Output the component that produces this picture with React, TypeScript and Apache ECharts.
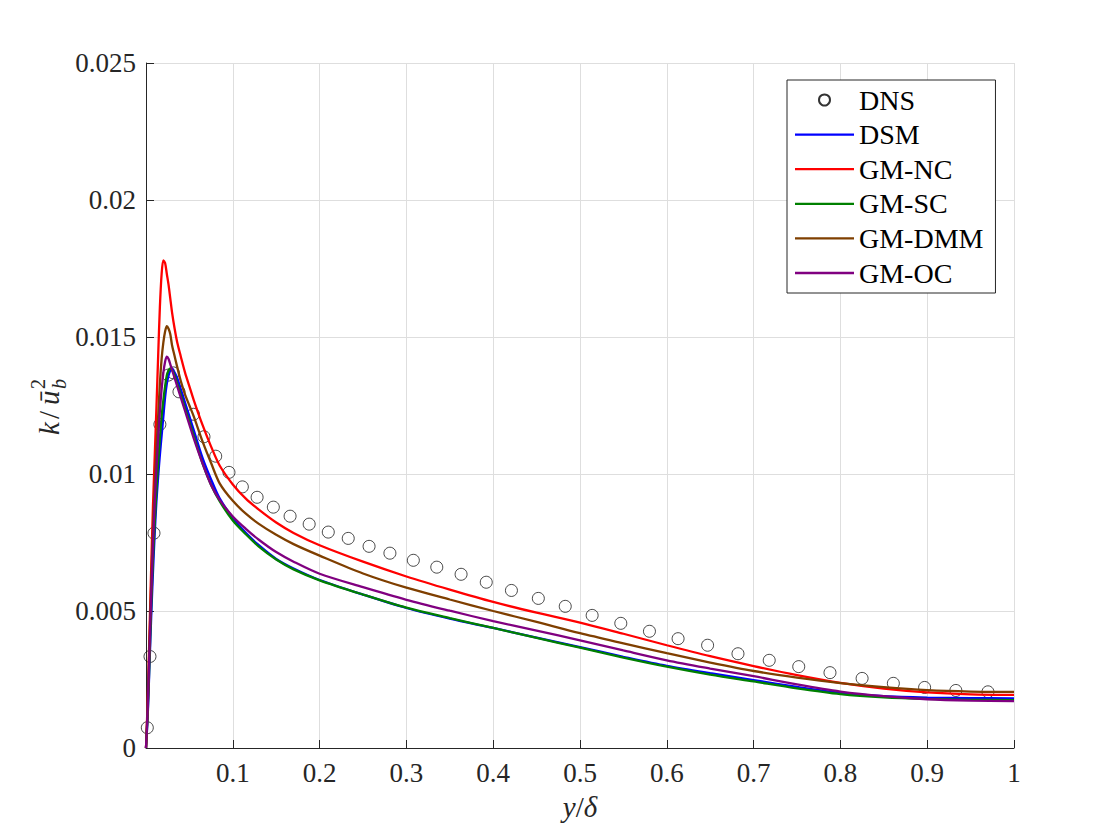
import React, { useEffect, useRef } from "react";
import * as echarts from "echarts";

const FONT = '"Liberation Serif", "DejaVu Serif", serif';

// DNS reference points
const dnsY = [0.0015, 0.0046, 0.0092, 0.016, 0.0257, 0.0315, 0.038, 0.0547, 0.0668, 0.0803, 0.0956, 0.111, 0.128, 0.1467, 0.166, 0.188, 0.21, 0.233, 0.257, 0.281, 0.308, 0.335, 0.363, 0.392, 0.421, 0.452, 0.483, 0.514, 0.547, 0.58, 0.613, 0.647, 0.682, 0.718, 0.752, 0.788, 0.825, 0.861, 0.897, 0.933, 0.97];
const dnsK = [0.00074, 0.00334, 0.00784, 0.01181, 0.01361, 0.01369, 0.013, 0.01218, 0.01136, 0.01065, 0.01006, 0.00953, 0.00915, 0.00879, 0.00846, 0.00817, 0.00788, 0.00765, 0.00736, 0.00711, 0.00685, 0.0066, 0.00634, 0.00605, 0.00575, 0.00546, 0.00517, 0.00484, 0.00455, 0.00426, 0.00399, 0.00375, 0.00344, 0.0032, 0.00297, 0.00275, 0.00254, 0.00236, 0.00221, 0.0021, 0.00205];

// model wall-normal coordinate
const modelY = [0, 0.002, 0.004, 0.006, 0.008, 0.01, 0.012, 0.014, 0.016, 0.018, 0.02, 0.022, 0.024, 0.026, 0.028, 0.03, 0.033, 0.036, 0.04, 0.045, 0.05, 0.055, 0.065, 0.075, 0.085, 0.1, 0.115, 0.13, 0.15, 0.17, 0.2, 0.25, 0.3, 0.35, 0.4, 0.45, 0.5, 0.55, 0.6, 0.65, 0.7, 0.75, 0.8, 0.85, 0.9, 0.95, 1.0];

const dsmK = [0, 0.0012, 0.003, 0.0048, 0.0064, 0.0078, 0.009, 0.0099, 0.0107, 0.0114, 0.0121, 0.0128, 0.0133, 0.0136, 0.01378, 0.01385, 0.0137, 0.0135, 0.0131, 0.0126, 0.0121, 0.0116, 0.0106, 0.0098, 0.0091, 0.0084, 0.00785, 0.0074, 0.0069, 0.00655, 0.00613, 0.0056, 0.00511, 0.00472, 0.00438, 0.00403, 0.00368, 0.00333, 0.003, 0.00273, 0.00248, 0.00223, 0.00201, 0.00189, 0.00184, 0.00182, 0.00181];
const gmNcK = [0, 0.0018, 0.0042, 0.0066, 0.0088, 0.0106, 0.0124, 0.0143, 0.0161, 0.0173, 0.0178, 0.0177, 0.0173, 0.0169, 0.0164, 0.0159, 0.0153, 0.0148, 0.0143, 0.0137, 0.0132, 0.0127, 0.0118, 0.011, 0.0103, 0.00962, 0.0091, 0.0087, 0.00823, 0.00785, 0.0074, 0.0068, 0.00626, 0.00578, 0.00533, 0.00494, 0.00458, 0.00417, 0.00375, 0.00335, 0.00299, 0.00266, 0.00238, 0.00217, 0.00203, 0.00196, 0.00194];
const gmScK = [0, 0.0013, 0.0032, 0.0052, 0.0069, 0.0082, 0.0094, 0.0104, 0.0113, 0.0121, 0.0127, 0.0132, 0.0136, 0.01378, 0.01385, 0.0138, 0.0136, 0.0133, 0.0129, 0.0124, 0.0119, 0.0114, 0.0104, 0.0096, 0.009, 0.0083, 0.0078, 0.00735, 0.00688, 0.00652, 0.00612, 0.0056, 0.00512, 0.00474, 0.00438, 0.00402, 0.00366, 0.0033, 0.00297, 0.00268, 0.00243, 0.00218, 0.00197, 0.00185, 0.00179, 0.00176, 0.00175];
const gmDmmK = [0, 0.0016, 0.0038, 0.006, 0.0079, 0.0095, 0.0109, 0.0121, 0.0133, 0.0142, 0.0148, 0.0152, 0.0154, 0.0153, 0.0151, 0.0147, 0.0143, 0.0139, 0.0134, 0.0129, 0.0125, 0.0121, 0.0112, 0.0104, 0.00965, 0.00902, 0.00855, 0.00818, 0.00778, 0.00744, 0.00702, 0.00637, 0.00585, 0.00542, 0.005, 0.0046, 0.00419, 0.00382, 0.00346, 0.00312, 0.00281, 0.00257, 0.00237, 0.00222, 0.00211, 0.00206, 0.00205];
const gmOcK = [0, 0.0015, 0.0036, 0.0056, 0.0074, 0.0089, 0.0102, 0.0113, 0.0123, 0.0131, 0.0137, 0.0141, 0.01428, 0.0142, 0.014, 0.0138, 0.0135, 0.0132, 0.0128, 0.0123, 0.0118, 0.0113, 0.0104, 0.0096, 0.00905, 0.00845, 0.008, 0.0076, 0.00715, 0.0068, 0.00636, 0.00587, 0.00541, 0.00501, 0.00463, 0.00428, 0.00393, 0.00356, 0.0032, 0.0029, 0.00262, 0.00232, 0.00206, 0.00189, 0.00178, 0.00173, 0.00171];

const seriesNames = ["DNS", "DSM", "GM-NC", "GM-SC", "GM-DMM", "GM-OC"];
const lineColors = ["#0000ff", "#ff0000", "#008000", "#7f3f00", "#800080"];
const xTicks = { min: 0, max: 1, interval: 0.1 };
const yTicks = { min: 0, max: 0.025, interval: 0.005 };

const pairs = (xs: number[], ys: number[]) => xs.map((x, i) => [x, ys[i]]);

export default function App() {
  const ref = useRef<HTMLDivElement>(null);
  useEffect(() => {
    if (!ref.current) return;
    const chart = echarts.init(ref.current, undefined, { renderer: "svg" });
    const models = [dsmK, gmNcK, gmScK, gmDmmK, gmOcK];
    const lineSeries = models.map((k, i) => ({
      name: seriesNames[i + 1],
      type: "line",
      data: pairs(modelY, k),
      symbol: "none",
      smooth: 0.3,
      lineStyle: { color: lineColors[i], width: 2.3 },
      itemStyle: { color: lineColors[i] },
      z: 3,
    }));
    const axisColor = "#262626";
    const italic = `italic 29px ${FONT}`;
    const lineIcon = "path://M0 0H59V2.3H0Z";
    chart.setOption({
      animation: false,
      backgroundColor: "#ffffff",
      grid: { left: 146, right: 106, top: 63, bottom: 92, containLabel: false },
      xAxis: {
        type: "value",
        ...xTicks,
        axisLine: { lineStyle: { color: axisColor, width: 1 } },
        axisTick: { inside: true, length: 8, lineStyle: { color: axisColor } },
        splitLine: { show: true, lineStyle: { color: "#dedede", width: 1 } },
        axisLabel: {
          fontFamily: FONT,
          fontSize: 27,
          color: axisColor,
          margin: 11,
          formatter: (v: number) => (v === 0 ? "" : String(+v.toFixed(1))),
        },
        name: "{i|y}/{i|δ}",
        nameLocation: "middle",
        nameGap: 44,
        nameTextStyle: {
          fontFamily: FONT,
          fontSize: 29,
          color: axisColor,
          rich: { i: { fontFamily: FONT, fontSize: 29, fontStyle: "italic", color: axisColor } },
        },
      },
      yAxis: {
        type: "value",
        ...yTicks,
        axisLine: { show: true, lineStyle: { color: axisColor, width: 1 } },
        axisTick: { show: true, inside: true, length: 8, lineStyle: { color: axisColor } },
        splitLine: { show: true, lineStyle: { color: "#dedede", width: 1 } },
        axisLabel: {
          fontFamily: FONT,
          fontSize: 27,
          color: axisColor,
          margin: 10,
          formatter: (v: number) => String(+v.toFixed(3)),
        },
      },
      legend: {
        orient: "vertical",
        left: 787,
        top: 80,
        itemWidth: 59,
        itemHeight: 11,
        itemGap: 4.6,
        itemTextGap: 7,
        padding: [5, 12, 5, 8],
        backgroundColor: "#ffffff",
        borderColor: axisColor,
        borderWidth: 1,
        borderRadius: 0,
        textStyle: { fontFamily: FONT, fontSize: 28, color: "#000", lineHeight: 30 },
        data: seriesNames.map((n, i) => ({ name: n, icon: i === 0 ? "circle" : lineIcon })),
      },
      graphic: [
        {
          type: "group",
          x: 0,
          y: 435,
          rotation: Math.PI / 2,
          children: [
            { type: "text", x: 0, y: 63, style: { text: "k", font: italic, fill: axisColor, textAlign: "left", textVerticalAlign: "bottom" } },
            { type: "text", x: 16, y: 63, style: { text: "/", font: `29px ${FONT}`, fill: axisColor, textAlign: "left", textVerticalAlign: "bottom" } },
            { type: "text", x: 30, y: 63, style: { text: "ū", font: italic, fill: axisColor, textAlign: "left", textVerticalAlign: "bottom" } },
            { type: "text", x: 46, y: 69, style: { text: "b", font: `italic 20px ${FONT}`, fill: axisColor, textAlign: "left", textVerticalAlign: "bottom" } },
            { type: "text", x: 46, y: 48, style: { text: "2", font: `20px ${FONT}`, fill: axisColor, textAlign: "left", textVerticalAlign: "bottom" } },
          ],
        },
      ],
      series: [
        {
          name: seriesNames[0],
          type: "scatter",
          data: pairs(dnsY, dnsK),
          symbol: "circle",
          symbolSize: 12,
          itemStyle: { color: "rgba(0,0,0,0)", borderColor: "#000", borderWidth: 0.9 },
          z: 2,
        },
        ...lineSeries,
      ],
    });
    return () => chart.dispose();
  }, []);
  return (
    <div
      ref={ref}
      style={{ position: "absolute", left: 0, top: 0, width: 1120, height: 840, background: "#fff" }}
    />
  );
}
